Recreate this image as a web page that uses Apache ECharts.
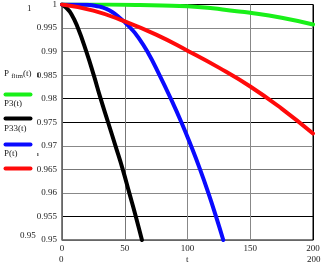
<!DOCTYPE html>
<html><head><meta charset="utf-8">
<script src="https://cdn.jsdelivr.net/npm/echarts@6/dist/echarts.min.js"></script>
<style>html,body{margin:0;padding:0;background:#fff}#c{width:323px;height:266px}</style>
</head><body><div id="c"></div>
<script>
// Data
const seriesNames = ['P_fltm(t)', 'P3(t)', 'P33(t)', 'P(t)'];
const greenT = [0, 25, 50, 62, 80, 100, 120, 134, 150, 175, 200];
const greenV = [1, 0.99999, 0.99995, 0.9999, 0.9998, 0.99964, 0.9992, 0.99873, 0.99824, 0.99718, 0.99576];
const blackT = [0, 3, 7.4, 12.7, 19.4, 25.3, 30.8, 36.7, 42.6, 48.4, 53.6, 58.8, 63.7];
const blackV = [1, 0.9994, 0.998, 0.995, 0.99, 0.985, 0.98, 0.975, 0.97, 0.965, 0.96, 0.955, 0.95];
const blueT = [0, 20, 25, 30, 35, 40, 45, 50, 55, 60, 68, 77.7, 86.7, 95.1, 102.8, 110, 116.6, 122.7, 128.5];
const blueV = [1, 0.99993, 0.9998, 0.99955, 0.9991, 0.9984, 0.9974, 0.99625, 0.9949, 0.9933, 0.99, 0.985, 0.98, 0.975, 0.97, 0.965, 0.96, 0.955, 0.95];
const redT = [0, 25, 50, 75, 100, 125, 150, 175, 200];
const redV = [1, 0.9987, 0.9964, 0.9936, 0.9902, 0.9866, 0.9826, 0.9779, 0.9726];
const xTicks = [0, 50, 100, 150, 200];
const yTicks = [0.95, 0.955, 0.96, 0.965, 0.97, 0.975, 0.98, 0.985, 0.99, 0.995, 1];

const pairs = (t, v) => t.map((x, i) => [x, v[i]]);
const serif = 'Liberation Serif';
const chart = echarts.init(document.getElementById('c'));
const colors = ['#19f019', '#000000', '#0a0aff', '#ff0a0a'];
const datas = [pairs(greenT, greenV), pairs(blackT, blackV), pairs(blueT, blueV), pairs(redT, redV)];

const legendY = [94, 118, 144, 168];
const graphic = [];
seriesNames.forEach((n, i) => {
  graphic.push({type: 'line', left: 3, top: legendY[i] - 2,
    shape: {x1: 0, y1: 0, x2: 25, y2: 0},
    style: {stroke: colors[i], lineWidth: 4, lineCap: 'round'}});
});
graphic.push({type: 'text', left: 4, top: 69, style: {
  rich: {b: {fontFamily: serif, fontSize: 9, fill: '#222'},
         s: {fontFamily: serif, fontSize: 7, fill: '#222', padding: [6, 0, 0, 0]}},
  text: '{b|P }{s|fltm}{b|(t)}'}});
graphic.push({type: 'text', left: 4, top: 99, style: {text: 'P3(t)', font: '9px ' + serif, fill: '#222'}});
graphic.push({type: 'text', left: 4, top: 124, style: {text: 'P33(t)', font: '9px ' + serif, fill: '#222'}});
graphic.push({type: 'text', left: 4, top: 149, style: {text: 'P(t)', font: '9px ' + serif, fill: '#222'}});
graphic.push({type: 'text', left: 27, top: 4, style: {text: '1', font: '9px ' + serif, fill: '#222'}});
graphic.push({type: 'text', left: 20, top: 231, style: {text: '0.95', font: '9px ' + serif, fill: '#222'}});
graphic.push({type: 'text', left: 59, top: 255, style: {text: '0', font: '9px ' + serif, fill: '#222'}});
graphic.push({type: 'text', left: 186, top: 255, style: {text: 't', font: '9px ' + serif, fill: '#222'}});
graphic.push({type: 'text', left: 307, top: 255, style: {text: '200', font: '9px ' + serif, fill: '#222'}});
graphic.push({type: 'text', left: 37, top: 71, style: {text: 'ı', font: 'bold 8px ' + serif, fill: '#222'}});
graphic.push({type: 'text', left: 37, top: 151, style: {text: 'ı', font: 'bold 6px ' + serif, fill: '#222'}});

const ySplitColors = ['#000', '#000', '#888', '#777', '#888', '#000', '#000', '#888', '#777', '#888', '#000'];

chart.setOption({
  animation: false,
  backgroundColor: '#fff',
  grid: {left: 62, right: 10, top: 4, bottom: 26, show: true, borderColor: '#000', borderWidth: 1, backgroundColor: 'transparent'},
  graphic: graphic,
  xAxis: {type: 'value', min: xTicks[0], max: xTicks[xTicks.length - 1], interval: 50,
    axisLine: {show: true, onZero: false, lineStyle: {color: '#666'}},
    axisTick: {show: false},
    axisLabel: {fontFamily: serif, fontSize: 9, color: '#222', margin: 4,
      formatter: v => xTicks.includes(v) ? String(v) : ''},
    splitLine: {show: true, lineStyle: {color: ['#000', '#777', '#888', '#888', '#000'], width: 1}}},
  yAxis: {type: 'value', min: yTicks[0], max: yTicks[yTicks.length - 1], interval: 0.005,
    axisLine: {show: true, lineStyle: {color: '#666'}},
    axisTick: {show: false},
    axisLabel: {fontFamily: serif, fontSize: 9, color: '#222', margin: 5,
      formatter: v => { const r = Math.round(v * 1000) / 1000; return r === 1 ? '1' : String(r); }},
    splitLine: {show: true, lineStyle: {color: ySplitColors, width: 1}}},
  series: datas.map((d, i) => ({
    name: seriesNames[i], type: 'line', data: d, smooth: 0.5, showSymbol: false,
    clip: true, lineStyle: {color: colors[i], width: 4, cap: 'round', join: 'round'}, z: 2 + i
  }))
});
</script></body></html>
